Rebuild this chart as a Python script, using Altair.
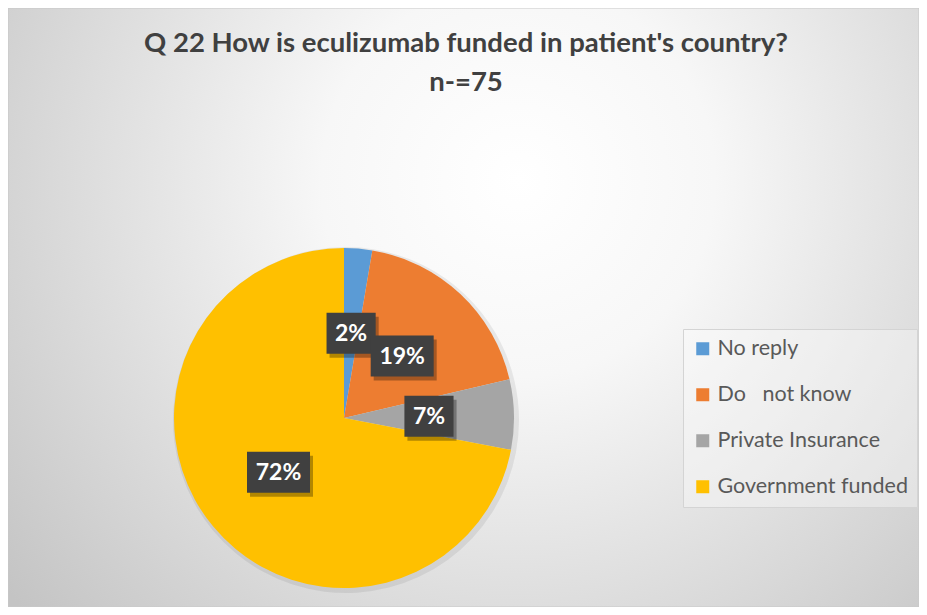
import altair as alt
import pandas as pd

categories = ["No reply", "Do\u00a0\u00a0 not know", "Private Insurance", "Government funded"]
counts = [2, 14, 5, 54]
labels = ["2%", "19%", "7%", "72%"]
colors = ["#5B9BD5", "#ED7D31", "#A5A5A5", "#FFC000"]
title_lines = ["Q 22 How is eculizumab funded in patient's country?", "n-=75"]

df = pd.DataFrame({"category": categories, "count": counts, "label": labels, "idx": list(range(len(categories)))})

W, H = 911, 599
CX, CY, R, LR = 336, 410, 170, 85

bg = alt.Chart(alt.Data(values=[{"a": 1}])).mark_rect(
    fill=alt.Gradient(
        gradient="radial",
        x1=0.56, y1=0.36, r1=0.0,
        x2=0.56, y2=0.36, r2=0.72,
        stops=[alt.GradientStop(color="#ffffff", offset=0),
               alt.GradientStop(color="#f7f7f7", offset=0.3),
               alt.GradientStop(color="#c4c4c4", offset=1)],
    ),
    stroke="#c8c8c8", strokeWidth=1,
).encode(x=alt.value(0), x2=alt.value(W), y=alt.value(0), y2=alt.value(H))

base = alt.Chart(df)

pie_shadow = base.mark_arc(radius=173, color="#000000", opacity=0.07).encode(
    theta=alt.Theta("count:Q", stack=True),
    order=alt.Order("idx:Q"),
    x=alt.value(CX + 2), y=alt.value(CY + 2),
)

pie = base.mark_arc(radius=R).encode(
    theta=alt.Theta("count:Q", stack=True),
    order=alt.Order("idx:Q"),
    color=alt.Color(
        "category:N",
        scale=alt.Scale(domain=categories, range=colors),
        sort=categories,
        legend=alt.Legend(
            title=None, orient="none", legendX=675, legendY=321,
            symbolType="square", symbolSize=169, symbolStrokeWidth=0,
            labelFont="Lato", labelFontSize=21.5, labelColor="#595959", labelLimit=400,
            labelOffset=4, rowPadding=23, padding=9,
            fillColor="rgba(255,255,255,0.35)", strokeColor="#d4d4d4",
        ),
    ),
    x=alt.value(CX), y=alt.value(CY),
)

pos = base.transform_joinaggregate(total="sum(count)").transform_window(
    cum="sum(count)", sort=[alt.SortField("idx")]
).transform_calculate(
    mid="(datum.cum - datum.count / 2) / datum.total * 2 * PI",
).transform_calculate(
    px=f"{CX} + {LR} * sin(datum.mid)",
    py=f"{CY} - {LR} * cos(datum.mid)",
    shp="length(datum.label) > 2 ? 'M-1,-0.65L1,-0.65L1,0.65L-1,0.65Z' : 'M-0.78,-0.65L0.78,-0.65L0.78,0.65L-0.78,0.65Z'",
)

box_shadow = pos.mark_point(filled=True, size=3969, color="#000000", opacity=0.3, strokeWidth=0,
                            xOffset=3, yOffset=4).encode(
    x=alt.X("px:Q", scale=None, axis=None),
    y=alt.Y("py:Q", scale=None, axis=None),
    shape=alt.Shape("shp:N", scale=None, legend=None),
)

box = pos.mark_point(filled=True, size=3969, color="#404040", opacity=1, strokeWidth=0).encode(
    x=alt.X("px:Q", scale=None, axis=None),
    y=alt.Y("py:Q", scale=None, axis=None),
    shape=alt.Shape("shp:N", scale=None, legend=None),
)

text = pos.mark_text(font="Lato", fontSize=23, fontWeight="bold", color="#ffffff",
                     baseline="middle", align="center", dy=1).encode(
    x=alt.X("px:Q", scale=None, axis=None),
    y=alt.Y("py:Q", scale=None, axis=None),
    text="label:N",
)

t1 = alt.Chart(alt.Data(values=[{"t": title_lines[0]}])).mark_text(
    font="Lato", fontSize=27.5, fontWeight="bold", color="#404040", align="center", baseline="alphabetic"
).encode(x=alt.value(458), y=alt.value(44), text="t:N")

t2 = alt.Chart(alt.Data(values=[{"t": title_lines[1]}])).mark_text(
    font="Lato", fontSize=27.5, fontWeight="bold", color="#404040", align="center", baseline="alphabetic"
).encode(x=alt.value(458), y=alt.value(83), text="t:N")

chart = alt.layer(bg, pie_shadow, pie, box_shadow, box, text, t1, t2).properties(
    width=W, height=H, autosize=alt.AutoSizeParams(type="none"), padding=0
).configure_view(stroke=None)

chart.save("out.html", embed_options={"renderer": "svg", "actions": False})
